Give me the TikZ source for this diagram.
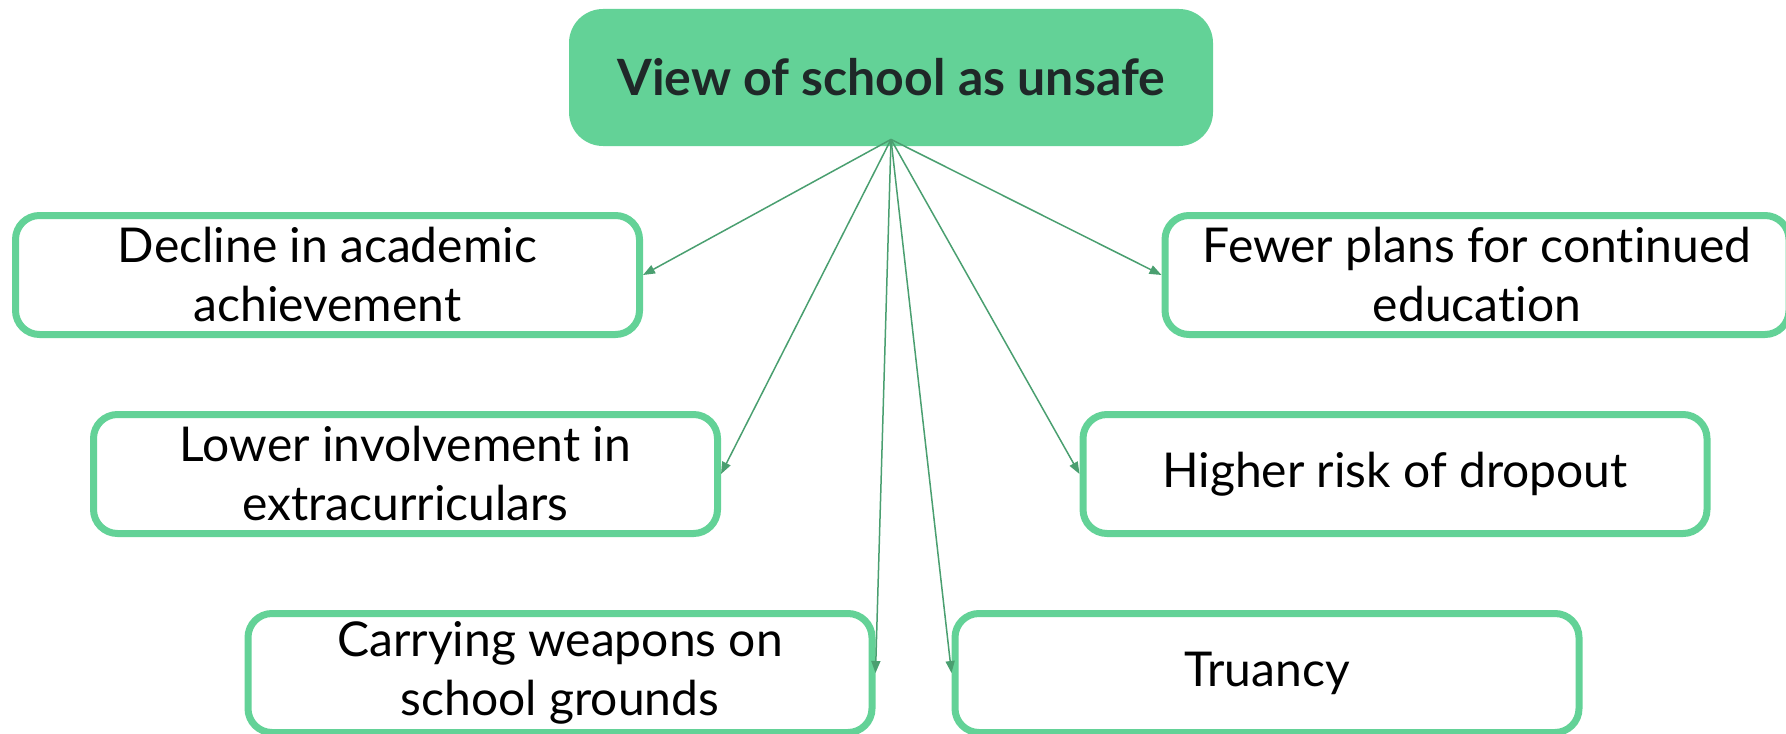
\documentclass[tikz,border=0pt]{standalone}
\usepackage{fontspec}
\setmainfont[Ligatures=NoCommon]{Lato}
\usetikzlibrary{
  arrows.meta,
  positioning
}
\definecolor{mint}{HTML}{63D297}
\definecolor{mintdark}{HTML}{4A9F70}
\definecolor{inkdark}{HTML}{1F2828}

\begin{document}
\begin{tikzpicture}[
  x=0.5pt,
  y=-0.5pt,
  topic/.style={
    rectangle,
    rounded corners=17pt,
    fill=mint,
    minimum width=322pt,
    minimum height=68.5pt,
    text=inkdark,
    font=\fontsize{25}{30}\selectfont\bfseries,
  },
  outcome/.style={
    rectangle,
    rounded corners=12pt,
    draw=mint,
    line width=3.5pt,
    fill=white,
    minimum width=312pt,
    minimum height=59.5pt,
    align=center,
    font=\fontsize{24}{29.5}\selectfont,
  },
  link/.style={
    draw=mintdark,
    line width=0.75pt,
    -{Triangle[length=6pt,width=4.5pt]},
  },
]
\useasboundingbox (0,0) rectangle (1786,733);
\node[topic] (unsafe) at (891,77.5) {View of school as unsafe};
\coordinate[above=3.5pt of unsafe.south] (hub);

\node[outcome] (decline) at (327.5,275) {Decline in academic\\achievement};
\node[outcome] (fewer) at (1477,275) {Fewer plans for continued\\education};
\node[outcome] (lower) at (405.5,474) {Lower involvement in\\extracurriculars};
\node[outcome] (dropout) at (1395,474) {Higher risk of dropout};
\node[outcome] (weapons) at (560,673) {Carrying weapons on\\school grounds};
\node[outcome] (truancy) at (1267,673) {Truancy};

\foreach \target/\side in {decline/east, lower/east, weapons/east,
                           truancy/west, dropout/west, fewer/west}
  \draw[link] (hub) -- (\target.\side);
\end{tikzpicture}
\end{document}
